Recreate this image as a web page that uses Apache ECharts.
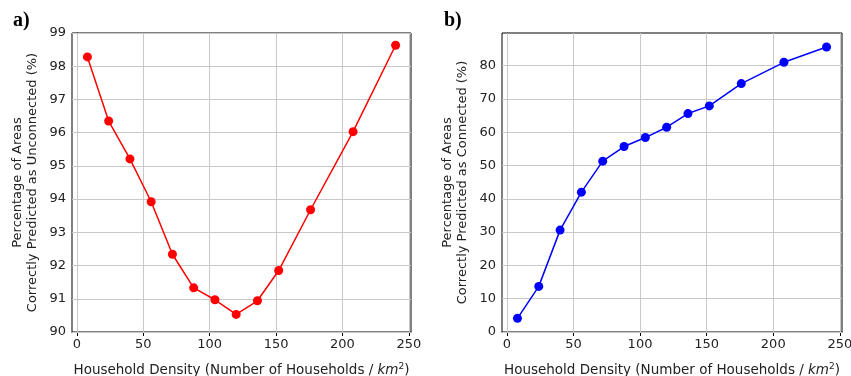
<!DOCTYPE html>
<html>
<head>
<meta charset="utf-8">
<script src="https://cdn.jsdelivr.net/npm/echarts@6/dist/echarts.min.js"></script>
<style>
  html, body { margin: 0; padding: 0; background: #fff; }
  #chart { width: 851px; height: 376px; }
</style>
</head>
<body>
<div id="chart"></div>
<script>
const density = [8, 24, 40, 56, 72, 88, 104, 120, 136, 152, 176, 208, 240]
const unconnectedPct = [98.28, 96.35, 95.21, 93.92, 92.34, 91.33, 90.97, 90.53, 90.94, 91.85, 93.68, 96.03, 98.63]
const connectedPct = [4.1, 13.7, 30.6, 42.0, 51.3, 55.7, 58.4, 61.5, 65.6, 67.9, 74.6, 81.0, 85.6]
const xTicks = [0, 50, 100, 150, 200, 250]
const leftYTicks = [90, 91, 92, 93, 94, 95, 96, 97, 98, 99]
const rightYTicks = [0, 10, 20, 30, 40, 50, 60, 70, 80]

const chart = echarts.init(document.getElementById("chart"))

const font = "DejaVu Sans"
const textColor = "#222"
const gridColor = "#c8c8c8"

// x-axis shared settings (matplotlib-like: outward ticks, grey grid)
const makeXAxis = (gridIndex) => ({
  type: "value",
  gridIndex,
  min: -3.6,
  max: 251.6,
  axisLine: { show: true, onZero: false, lineStyle: { color: "#000", width: 1 } },
  axisTick: { show: true, inside: false, length: 4, customValues: xTicks, lineStyle: { color: "#000" } },
  axisLabel: { customValues: xTicks, color: textColor, fontFamily: font, fontSize: 13, margin: 6 },
  splitLine: { show: false },
  name: "{n|Household Density (Number of Households / }{i|km}{s|2}{n|)}",
  nameLocation: "middle",
  nameGap: 30,
  nameTextStyle: {
    rich: {
      n: { fontFamily: font, fontSize: 13.5, color: textColor },
      i: { fontFamily: font, fontSize: 13.5, fontStyle: "italic", color: textColor },
      s: { fontFamily: font, fontSize: 9, color: textColor, verticalAlign: "top", padding: [0, 0, 8, 0] }
    }
  }
})

const makeYAxis = (gridIndex, min, max, ticks, name) => ({
  type: "value",
  gridIndex,
  min,
  max,
  axisLine: { show: true, lineStyle: { color: "#000", width: 1 } },
  axisTick: { show: true, inside: false, length: 4, customValues: ticks, lineStyle: { color: "#000" } },
  axisLabel: { customValues: ticks, color: textColor, fontFamily: font, fontSize: 13, margin: 6 },
  splitLine: { show: false },
  name,
  nameLocation: "middle",
  nameRotate: 90,
  nameGap: 32,
  nameTextStyle: { fontFamily: font, fontSize: 13, color: textColor, lineHeight: 15 }
})

// grid lines at the tick values (splitLine ignores customValues)
const gridLines = (axisIdx, yTicks) => ({
  type: "line",
  xAxisIndex: axisIdx,
  yAxisIndex: axisIdx,
  data: [],
  z: 1,
  silent: true,
  markLine: {
    z: 1,
    silent: true,
    symbol: ["none", "none"],
    label: { show: false },
    lineStyle: { color: gridColor, width: 1, type: "solid" },
    emphasis: { disabled: true },
    data: [...xTicks.map(v => ({ xAxis: v })), ...yTicks.map(v => ({ yAxis: v }))]
  }
})

const option = {
  backgroundColor: "#fff",
  animation: false,
  title: [
    { text: "a)", left: 8, top: 6, textStyle: { fontFamily: "Liberation Serif", fontWeight: "bold", fontSize: 20, color: "#000" } },
    { text: "b)", left: 439, top: 6, textStyle: { fontFamily: "Liberation Serif", fontWeight: "bold", fontSize: 20, color: "#000" } }
  ],
  grid: [
    { left: 72, right: 440, top: 33, bottom: 44, outerBoundsMode: "none", show: true, borderColor: "#000", borderWidth: 1 },
    { left: 502, right: 9, top: 33, bottom: 44, outerBoundsMode: "none", show: true, borderColor: "#000", borderWidth: 1 }
  ],
  xAxis: [makeXAxis(0), makeXAxis(1)],
  yAxis: [
    makeYAxis(0, 90, 99, leftYTicks, "Percentage of Areas\nCorrectly Predicted as Unconnected (%)"),
    makeYAxis(1, 0, 89.8, rightYTicks, "Percentage of Areas\nCorrectly Predicted as Connected (%)")
  ],
  series: [
    gridLines(0, leftYTicks),
    gridLines(1, rightYTicks),
    {
      type: "line",
      xAxisIndex: 0,
      yAxisIndex: 0,
      z: 3,
      data: density.map((d, i) => [d, unconnectedPct[i]]),
      symbol: "circle",
      symbolSize: 9,
      lineStyle: { color: "#ff0000", width: 1.5 },
      itemStyle: { color: "#ff0000" }
    },
    {
      type: "line",
      xAxisIndex: 1,
      yAxisIndex: 1,
      z: 3,
      data: density.map((d, i) => [d, connectedPct[i]]),
      symbol: "circle",
      symbolSize: 9,
      lineStyle: { color: "#0000ff", width: 1.5 },
      itemStyle: { color: "#0000ff" }
    }
  ]
}

chart.setOption(option)
</script>
</body>
</html>
